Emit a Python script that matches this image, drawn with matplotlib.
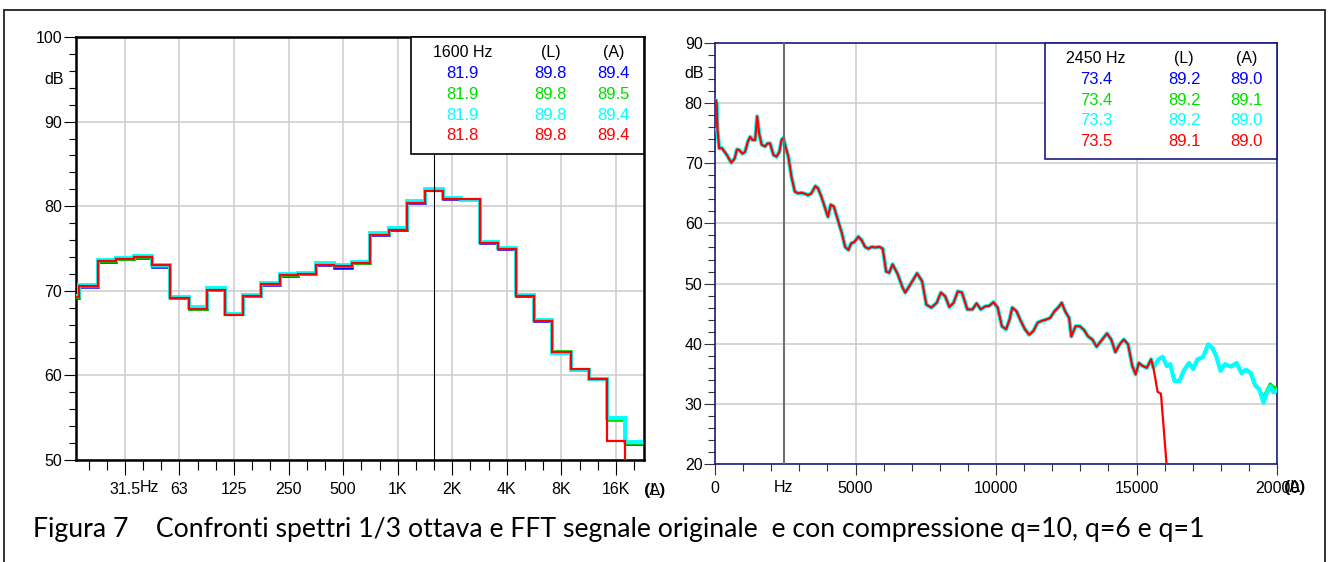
import numpy as np
import matplotlib
matplotlib.use("Agg")
import matplotlib.pyplot as plt
from matplotlib.patches import Rectangle
from matplotlib.ticker import FixedLocator, MultipleLocator

plt.rcParams["font.family"] = ["Liberation Sans", "DejaVu Sans"]

# ── 1/3 octave spectra (left panel) ───────────────────────────────────
band_hz = [16, 20, 25, 31.5, 40, 50, 63, 80, 100, 125, 160, 200, 250, 315, 400,
           500, 630, 800, 1000, 1250, 1600, 2000, 2500, 3150, 4000, 5000, 6300,
           8000, 10000, 12500, 16000, 20000]
oct_blue = [69.2, 70.5, 73.4, 73.7, 73.9, 72.8, 69.1, 67.9, 70.1, 67.2, 69.4, 70.7,
            71.8, 72.0, 73.1, 72.7, 73.3, 76.6, 77.2, 80.4, 81.9, 80.9, 80.8, 75.7,
            74.9, 69.4, 66.4, 62.7, 60.6, 59.6, 54.8, 51.9]
oct_green = [69.3, 70.6, 73.5, 73.8, 74.0, 72.9, 69.2, 67.9, 70.1, 67.2, 69.4, 70.8,
             71.9, 72.0, 73.2, 72.9, 73.3, 76.7, 77.3, 80.5, 81.9, 81.0, 80.8, 75.8,
             75.0, 69.5, 66.6, 62.9, 60.8, 59.7, 54.7, 52.0]
oct_cyan = [69.4, 70.7, 73.6, 73.9, 74.1, 73.1, 69.3, 68.1, 70.3, 67.3, 69.5, 70.9,
            72.0, 72.1, 73.3, 73.0, 73.4, 76.8, 77.4, 80.6, 82.0, 81.0, 80.7, 75.8,
            75.0, 69.5, 66.5, 62.7, 60.6, 59.6, 55.0, 52.1]
oct_red = [69.3, 70.6, 73.5, 73.8, 74.0, 73.0, 69.2, 67.9, 70.1, 67.1, 69.4, 70.8,
           71.9, 72.0, 73.1, 72.9, 73.3, 76.6, 77.2, 80.4, 81.8, 80.9, 80.8, 75.7,
           74.9, 69.4, 66.4, 62.8, 60.7, 59.6, 52.2, 40.0]
oct_major_hz = [31.5, 63, 125, 250, 500, 1000, 2000, 4000, 8000, 16000]
oct_major_lbl = ["31.5", "63", "125", "250", "500", "1K", "2K", "4K", "8K", "16K"]
oct_cursor_hz = 1600
oct_header = ["1600 Hz", "(L)", "(A)"]
oct_band_val = [81.9, 81.9, 81.9, 81.8]
oct_L = [89.8, 89.8, 89.8, 89.8]
oct_A = [89.4, 89.5, 89.4, 89.4]

# ── FFT spectra (right panel) ─────────────────────────────────────────
fft_hz = [0, 30, 60, 90, 150, 250, 420, 580, 700, 780,
          860, 980, 1070, 1170, 1250, 1330, 1430, 1500, 1570, 1660,
          1780, 1870, 1960, 2080, 2190, 2290, 2370, 2430, 2490, 2610,
          2720, 2840, 2960, 3080, 3220, 3310, 3430, 3570, 3670, 3790,
          3900, 4020, 4120, 4230, 4370, 4520, 4630, 4750, 4850, 4960,
          5100, 5220, 5340, 5460, 5580, 5700, 5850, 5970, 6090, 6200,
          6320, 6500, 6670, 6770, 6920, 7190, 7370, 7520, 7700, 7890,
          8040, 8190, 8340, 8490, 8640, 8790, 8980, 9160, 9310, 9460,
          9610, 9760, 9910, 10060, 10210, 10360, 10480, 10580, 10730, 10880,
          11030, 11180, 11330, 11480, 11630, 11780, 11930, 12080, 12230, 12340,
          12460, 12600, 12680, 12830, 12980, 13130, 13280, 13430, 13580, 13730,
          13950, 14100, 14250, 14400, 14550, 14700, 14850, 14970, 15080, 15220,
          15370, 15520, 15600]
fft_db = [76.0, 80.5, 80.0, 75.5, 72.5, 72.5, 71.4, 70.1, 70.8, 72.3,
          72.2, 71.6, 71.9, 73.6, 74.4, 73.9, 73.9, 77.8, 75.0, 73.1,
          72.8, 73.3, 73.3, 71.4, 71.1, 71.9, 73.9, 74.2, 73.1, 71.1,
          67.8, 65.3, 65.0, 65.1, 64.9, 64.7, 65.0, 66.2, 65.8, 64.4,
          62.8, 61.1, 63.1, 62.8, 60.6, 58.3, 56.1, 55.6, 56.7, 56.9,
          57.8, 57.2, 56.1, 55.8, 56.1, 56.0, 56.1, 55.8, 52.0, 51.8,
          53.2, 51.6, 49.4, 48.5, 49.6, 51.7, 50.4, 46.5, 46.0, 46.8,
          48.5, 47.9, 46.1, 46.8, 48.7, 48.5, 45.7, 45.7, 46.7, 45.7,
          46.2, 46.3, 46.9, 46.0, 42.9, 42.4, 44.0, 46.0, 45.4, 43.8,
          42.4, 41.5, 42.1, 43.5, 43.8, 44.0, 44.3, 45.4, 46.1, 46.8,
          45.4, 44.3, 41.2, 42.9, 42.9, 42.3, 41.2, 40.7, 39.5, 40.4,
          41.7, 40.7, 38.6, 39.9, 40.7, 39.9, 36.3, 34.9, 36.8, 36.3,
          36.0, 37.4, 36.0]
# above ~15.6 kHz the q=1 (red) curve falls away, the others go on
tail_hz = [15780, 15930, 16080, 16200, 16350, 16530, 16680, 16870, 17020, 17170,
           17370, 17550, 17700, 17840, 17990, 18140, 18370, 18560, 18740, 18890,
           19070, 19220, 19370, 19520, 19640, 19760, 19870, 20000]
tail_db = [37.4, 37.8, 36.3, 36.6, 33.8, 33.8, 35.5, 36.8, 35.8, 37.4,
           37.8, 39.9, 39.3, 37.9, 35.5, 36.6, 36.2, 36.8, 35.1, 35.7,
           35.1, 33.2, 32.4, 30.2, 31.9, 32.9, 31.9, 32.3]
tail_green_db = [37.4, 37.8, 36.3, 36.6, 33.8, 33.8, 35.5, 36.8, 35.8, 37.4,
                 37.8, 39.9, 39.3, 37.9, 35.5, 36.6, 36.2, 36.8, 35.1, 35.7,
                 35.1, 33.0, 32.4, 31.0, 32.2, 33.3, 32.8, 32.6]
red_tail_hz = [15640, 15750, 15870, 15950, 16120]
red_tail_db = [35.0, 32.0, 31.7, 27.0, 17.0]
fft_cursor_hz = 2450
fft_header = ["2450 Hz", "(L)", "(A)"]
fft_band_val = [73.4, 73.4, 73.3, 73.5]
fft_L = [89.2, 89.2, 89.2, 89.1]
fft_A = [89.0, 89.1, 89.0, 89.0]

colors = ["#0000ff", "#00dd00", "#00ffff", "#ff0000"]
caption = ("Figura 7    Confronti spettri 1/3 ottava e FFT segnale originale  "
           "e con compressione q=10, q=6 e q=1")

W, H = 1330, 562
fig = plt.figure(figsize=(W / 100, H / 100), dpi=100)


def band_center(f):
    n = np.round(10 * np.log10(np.asarray(f, float) / 1000.0))
    return 1000.0 * 10 ** (n / 10)


def table_box(ax, x0, y0, edge, header, vals, Ls, As):
    ax.add_patch(Rectangle((x0, y0), 1 - x0, 1 - y0, transform=ax.transAxes,
                           facecolor="white", edgecolor=edge, lw=1.2, zorder=10,
                           clip_on=False))
    cols = [x0 + (1 - x0) * c for c in (0.22, 0.60, 0.87)]
    rows = [1 - (1 - y0) * r for r in (0.135, 0.315, 0.495, 0.67, 0.845)]
    for c, t in zip(cols, header):
        ax.text(c, rows[0], t, transform=ax.transAxes, ha="center", va="center",
                fontsize=11.5, color="black", zorder=11)
    for i, col in enumerate(colors):
        for c, v in zip(cols, (vals[i], Ls[i], As[i])):
            ax.text(c, rows[i + 1], f"{v:.1f}", transform=ax.transAxes,
                    ha="center", va="center", fontsize=12, color=col, zorder=11)


# ── left: 1/3 octave ──────────────────────────────────────────────────
ax1 = fig.add_axes([76 / W, 1 - 460 / H, 568 / W, 423 / H])
centers = band_center(band_hz)
edges = np.concatenate([centers * 10 ** -0.05, [centers[-1] * 10 ** 0.05]])
ax1.set_xscale("log")
ax1.set_xlim(1000 * 10 ** -1.769, 1000 * 10 ** 1.354)
ax1.set_ylim(50, 100)
for vals, col, lw in zip([oct_blue, oct_green, oct_cyan, oct_red], colors,
                         [1.8, 2.0, 2.8, 1.6]):
    ax1.stairs(vals, edges, color=col, lw=lw, baseline=None, zorder=3)

major_c = band_center(oct_major_hz)
minor_c = [c for c in centers[1:] if not np.any(np.isclose(c, major_c))]
ax1.xaxis.set_major_locator(FixedLocator(major_c))
ax1.xaxis.set_minor_locator(FixedLocator(minor_c))
ax1.set_xticklabels(oct_major_lbl)
ax1.xaxis.set_minor_formatter(plt.NullFormatter())
ax1.yaxis.set_major_locator(MultipleLocator(10))
ax1.yaxis.set_minor_locator(MultipleLocator(2))
ax1.grid(True, which="major", color="#cccccc", lw=1.1, zorder=0)
ax1.tick_params(axis="x", which="major", length=11, width=0.8, pad=5, labelsize=11.5)
ax1.tick_params(axis="x", which="minor", length=7, width=0.8)
ax1.tick_params(axis="y", which="major", length=9, width=0.8, pad=1, labelsize=11.5)
ax1.tick_params(axis="y", which="minor", length=5, width=0.8)
for s in ax1.spines.values():
    s.set_linewidth(1.8)
    s.set_color("black")
ax1.axvline(band_center([oct_cursor_hz])[0], color="black", lw=0.8, zorder=4)
ax1.text(-0.022, 95, "dB", transform=ax1.get_yaxis_transform(), ha="right",
         va="center", fontsize=11.5)
# "Hz" glued to the right of the first octave label
ax1.annotate("Hz", xy=(major_c[0], 0), xycoords=ax1.get_xaxis_transform(),
             xytext=(10.8, -20), textcoords="offset points", ha="left",
             va="center", fontsize=11.5)
for t in ["(L)", "(A)"]:
    ax1.text(1.019, -0.071, t, transform=ax1.transAxes, ha="center",
             va="center", fontsize=11.5)
# overall (L) bar of the last series, drawn beside the plot
ax1.plot([1.023, 1.023], [50, oct_L[-1]], transform=ax1.get_xaxis_transform(),
         color=colors[-1], lw=1.1, clip_on=False)
table_box(ax1, 0.59, 0.7234, "black", oct_header, oct_band_val, oct_L, oct_A)

# ── right: FFT ────────────────────────────────────────────────────────
navy = "#1c1c80"
ax2 = fig.add_axes([715 / W, 1 - 464 / H, 562 / W, 421 / H])
series = [(fft_hz + tail_hz, fft_db + tail_db, 1.7),
          (fft_hz + tail_hz, fft_db + tail_green_db, 2.3),
          (fft_hz + tail_hz, fft_db + tail_db, 3.0),
          (fft_hz + red_tail_hz, fft_db + red_tail_db, 1.6)]
for (x, y, lw), col in zip(series, colors):
    ax2.plot(x, y, color=col, lw=lw, zorder=3)
ax2.set_xlim(0, 20000)
ax2.set_ylim(20, 90)
ax2.xaxis.set_major_locator(MultipleLocator(5000))
ax2.xaxis.set_minor_locator(MultipleLocator(1000))
ax2.yaxis.set_major_locator(MultipleLocator(10))
ax2.yaxis.set_minor_locator(MultipleLocator(2))
ax2.xaxis.set_major_formatter(plt.FuncFormatter(lambda v, p: f"{v:.0f}"))
ax2.grid(True, which="major", color="#cccccc", lw=1.1, zorder=0)
ax2.tick_params(axis="x", which="major", length=8, width=0.8, pad=4, labelsize=11.5,
                color="#333333")
ax2.tick_params(axis="x", which="minor", length=5, width=0.8, color="#333333")
ax2.tick_params(axis="y", which="major", length=8, width=0.8, pad=1, labelsize=11.5,
                color="#333333")
ax2.tick_params(axis="y", which="minor", length=5, width=0.8, color="#333333")
for s in ax2.spines.values():
    s.set_linewidth(1.2)
    s.set_color(navy)
ax2.axvline(fft_cursor_hz, color="#707070", lw=1.5, zorder=4)
ax2.text(-0.02, 85, "dB", transform=ax2.get_yaxis_transform(), ha="right",
         va="center", fontsize=11.5)
ax2.text(fft_cursor_hz, -0.057, "Hz", transform=ax2.get_xaxis_transform(),
         ha="center", va="center", fontsize=11.5)
for t in ["(L)", "(A)"]:
    ax2.text(1.032, -0.057, t, transform=ax2.transAxes, ha="center",
             va="center", fontsize=11.5)
table_box(ax2, 0.5872, 0.7245, navy, fft_header, fft_band_val, fft_L, fft_A)

# ── caption and outer frame ───────────────────────────────────────────
fig.text(33 / W, 1 - 537 / H, caption, fontfamily="Lato", fontsize=19.2,
         va="baseline", ha="left")
fig.patches.append(Rectangle((4 / W, -0.05), (1325 - 4) / W, (H - 10) / H + 0.05,
                             transform=fig.transFigure, fill=False, lw=1.3,
                             edgecolor="#222222"))

fig.savefig("out.png", dpi=100)
